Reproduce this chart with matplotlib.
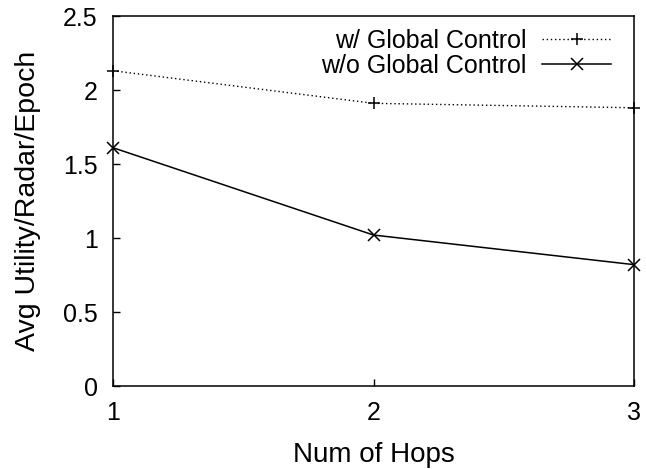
import matplotlib
matplotlib.use("Agg")
import matplotlib.pyplot as plt

plt.rcParams['font.family'] = ['Liberation Sans', 'DejaVu Sans']

hops = [1, 2, 3]
with_global = [2.13, 1.91, 1.88]
without_global = [1.61, 1.02, 0.82]
y_ticks = [0, 0.5, 1, 1.5, 2, 2.5]
y_tick_labels = ['0', '0.5', '1', '1.5', '2', '2.5']

fig = plt.figure(figsize=(6.46, 4.69), dpi=100)
ax = fig.add_axes([113 / 646, (469 - 386) / 469, (634 - 113) / 646, (386 - 16) / 469])

ax.plot(hops, with_global, color='black', linestyle=(0, (1, 2)), linewidth=1.0,
        marker='+', markersize=9, markeredgewidth=1.1, label='w/ Global Control',
        clip_on=False)
ax.plot(hops, without_global, color='black', linestyle='-', linewidth=1.1,
        marker='x', markersize=8, markeredgewidth=1.1, label='w/o Global Control',
        clip_on=False)

ax.set_xlim(1, 3)
ax.set_ylim(0, 2.5)
ax.set_xticks(hops)
ax.set_xticklabels([str(h) for h in hops])
ax.set_yticks(y_ticks)
ax.set_yticklabels(y_tick_labels)
ax.tick_params(direction='in', length=5, width=1, labelsize=18, pad=11)
for s in ax.spines.values():
    s.set_linewidth(1.1)

ax.set_xlabel('Num of Hops', fontsize=20, labelpad=12)
ax.set_ylabel('Avg Utility/Radar/Epoch', fontsize=20.5, labelpad=16)

leg = ax.legend(loc='upper right', bbox_to_anchor=(0.956, 0.965), frameon=False,
                markerfirst=False, fontsize=18, handlelength=2.76,
                handletextpad=0.64, labelspacing=0.05, borderaxespad=0,
                borderpad=0)

fig.savefig('out.png', dpi=100)
